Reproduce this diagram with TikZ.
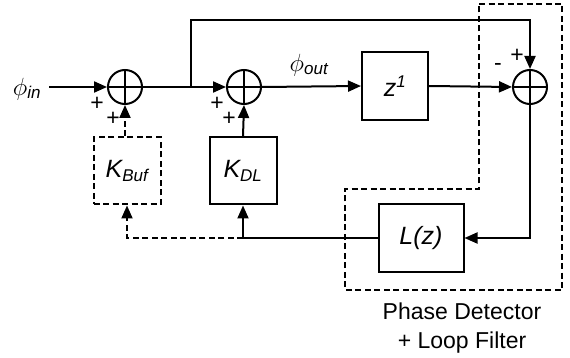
\documentclass[tikz,border=0pt]{standalone}
\usepackage{fontspec}
\setmainfont{Liberation Sans}
\usepackage{tikz}
\usetikzlibrary{arrows.meta,positioning,calc}

\tikzset{
  sumnode/.style={circle,draw,line width=2pt,minimum size=34pt,inner sep=0pt,
    path picture={\draw[line width=2pt] (path picture bounding box.north) -- (path picture bounding box.south)
      (path picture bounding box.west) -- (path picture bounding box.east);}},
  blockbox/.style={draw,line width=2pt,minimum width=67pt,minimum height=67pt,inner sep=0pt},
  dashbox/.style={blockbox,dash pattern=on 6pt off 3.5pt},
  sig/.style={line width=2pt,-{Triangle[length=13pt,width=11pt]}},
  dsig/.style={sig,dash pattern=on 6pt off 3.5pt},
  wire/.style={line width=2pt},
  lbl/.style={font=\fontsize{25}{27}\selectfont\itshape},
  sgn/.style={font=\fontsize{23}{25}\selectfont}
}
\newcommand{\lsub}[1]{\textsubscript{\fontsize{17}{18}\selectfont #1}}

\begin{document}
\begin{tikzpicture}[x=1pt,y=-1pt]
  \useasboundingbox (0,0) rectangle (570,358);
  % summing points
  \node[sumnode] (s1) at (125,87) {};
  \node[sumnode] (s2) at (244,87) {};
  \node[sumnode] (s3) at (530,87) {};
  % blocks
  \node[dashbox,lbl] (kbuf) at (127,171) {K\lsub{Buf}};
  \node[blockbox,lbl] (kdl) at (243,171) {K\lsub{DL}};
  \node[blockbox,minimum width=66pt,minimum height=68pt,lbl] (zinv) at (395,86) {z\textsuperscript{\fontsize{17}{18}\selectfont 1}};
  \node[blockbox,minimum width=85pt,lbl] (lz) at (421,238) {L(z)};
  % signal labels
  \node[lbl] (phin) at (27,89) {$\phi$\lsub{in}};
  \node[lbl] (phout) at (309,65) {$\phi$\lsub{out}};
  \coordinate (tap) at (191,87);
  \coordinate (top) at (191,20);
  \coordinate (back) at (243,238);
  % forward path
  \draw[sig] (49,87) -- (s1.west);
  \draw[wire] (s1.east) -- (tap);
  \draw[sig] (tap) -- (s2.west);
  \draw[sig] (s2.east) -- (zinv.west);
  \draw[sig] (zinv.east) -- (s3.west);
  \draw[sig] (tap) -- (top) -| (s3.north);
  % loop back
  \draw[sig] (s3.south) |- (lz.east);
  \draw[wire] (lz.west) -- (back);
  \draw[sig] (back) -- (kdl.south);
  \draw[sig] (kdl.north) -- (s2.south);
  \draw[dsig] (back) -| (kbuf.south);
  \draw[dsig] (kbuf.north -| s1.south) -- (s1.south);
  % signs
  \foreach \x/\y/\s in {97/104/+,113/119/+,217/104/+,229/119/+,498/67/-,517/56/+}
    \node[sgn] at (\x,\y) {\s};
  % phase detector + loop filter region
  \draw[line width=2pt,dash pattern=on 6pt off 3.5pt]
    (479,4) -- (562,4) -- (562,290) -- (345,290) -- (345,189) -- (479,189) -- cycle;
  \node[font=\fontsize{23}{29}\selectfont,align=center] (pdlf) at (462,328) {Phase Detector\\+ Loop Filter};
\end{tikzpicture}
\end{document}
